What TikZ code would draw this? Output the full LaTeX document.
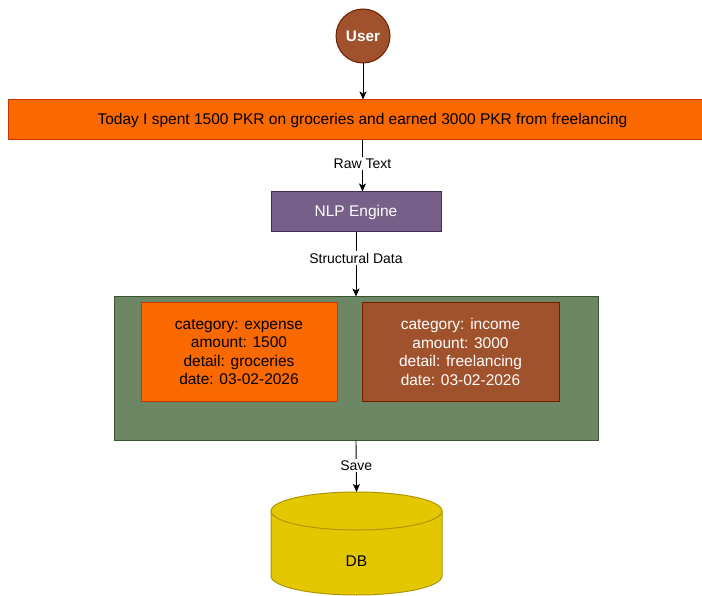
\documentclass[tikz,border=0pt]{standalone}
\usepackage{fontspec}
\setmainfont{Liberation Sans}
\usetikzlibrary{arrows.meta}
\definecolor{orangeF}{HTML}{FA6800}
\definecolor{orangeD}{HTML}{C73500}
\definecolor{brownF}{HTML}{A0522D}
\definecolor{brownD}{HTML}{6D1F00}
\definecolor{purpleF}{HTML}{76608A}
\definecolor{purpleD}{HTML}{432D57}
\definecolor{greenF}{HTML}{6D8764}
\definecolor{greenD}{HTML}{3A5431}
\definecolor{yellowF}{HTML}{E3C800}
\definecolor{yellowD}{HTML}{B09500}
\tikzset{
  maintext/.style={font=\fontsize{15.5}{18.4}\selectfont},
  labeltext/.style={font=\fontsize{14}{16}\selectfont},
  box/.style={draw, line width=1pt, inner sep=0pt, align=center, maintext},
  flow/.style={draw=black, line width=0.9pt, -{Stealth[length=8pt,width=7pt,inset=2pt]}},
  edgelabel/.style={fill=white, inner sep=1.5pt, labeltext}
}
\begin{document}
\begin{tikzpicture}[x=1pt,y=-1pt]
\useasboundingbox (0,0) rectangle (702,596);
% user
\node[circle, draw=brownD, fill=brownF, line width=1pt, minimum size=54pt, inner sep=0pt,
      text=white, font=\fontsize{15.3}{18}\selectfont\bfseries] (user) at (363,36) {User};
% input sentence
\node[box, draw=orangeD, fill=orangeF, minimum width=709pt, minimum height=40pt] (banner) at (362.5,120)
  {Today I spent 1500 PKR on groceries and earned 3000 PKR from freelancing};
% parser
\node[box, draw=purpleD, fill=purpleF, text=white, minimum width=170pt, minimum height=40pt] (nlp) at (356,212) {NLP Engine};
% structured records
\node[box, draw=greenD, fill=greenF, minimum width=484pt, minimum height=143pt] (store) at (356,368.5) {};
\node[box, draw=orangeD, fill=orangeF, minimum width=196pt, minimum height=98pt] (expense) at (239,352)
  {category: expense\\amount: 1500\\detail: groceries\\date: 03-02-2026};
\node[box, draw=brownD, fill=brownF, text=white, minimum width=197pt, minimum height=98pt] (income) at (460.5,352)
  {category: income\\amount: 3000\\detail: freelancing\\date: 03-02-2026};
% database
\coordinate (dbtop) at (356.5,492);
\draw[draw=yellowD, fill=yellowF, line width=1pt]
  (271,511) -- (271,576) arc[start angle=180, end angle=360, x radius=85.5pt, y radius=19pt]
  -- (442,511) arc[start angle=0, end angle=180, x radius=85.5pt, y radius=19pt] -- cycle;
\draw[draw=yellowD, line width=1pt]
  (271,511) arc[start angle=180, end angle=360, x radius=85.5pt, y radius=19pt];
\node[maintext] (db) at (356.5,561) {DB};
% connectors
\draw[flow] (user.south) -- (user.south |- banner.north);
\draw[flow] (banner.south) -- node[edgelabel, pos=0.45] {Raw Text} (banner.south |- nlp.north);
\draw[flow] (nlp.south) -- node[edgelabel, pos=0.4] {Structural Data} (nlp.south |- store.north);
\draw[flow] (store.south) -- node[edgelabel, pos=0.48] {Save} (dbtop);
\end{tikzpicture}
\end{document}
